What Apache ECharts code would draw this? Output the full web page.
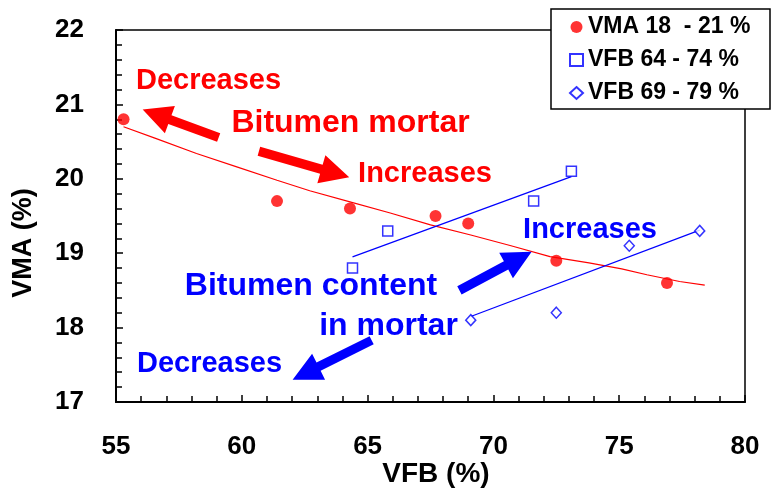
<!DOCTYPE html>
<html>
<head>
<meta charset="utf-8">
<script src="https://cdn.jsdelivr.net/npm/echarts@6/dist/echarts.min.js"></script>
<style>
  html, body { margin: 0; padding: 0; background: #fff; }
  #chart { width: 771px; height: 495px; }
</style>
</head>
<body>
<div id="chart"></div>
<script>
// Measured points
const vmaX = [55.3, 61.4, 64.3, 67.7, 69.0, 72.5, 76.9];
const vmaY = [20.8, 19.7, 19.6, 19.5, 19.4, 18.9, 18.6];
const vfb64X = [64.4, 65.8, 71.6, 73.1];
const vfb64Y = [18.8, 19.3, 19.7, 20.1];
const vfb69X = [69.1, 72.5, 75.4, 78.2];
const vfb69Y = [18.1, 18.2, 19.1, 19.3];

// Trend curves
const vmaFitX = [55.3, 56.6, 58.2, 59.8, 61.4, 62.7, 64.3, 65.9, 67.5, 69.1, 70.7, 72.25, 73.8, 75.1, 76.1, 77.4, 78.4];
const vmaFitY = [20.70, 20.54, 20.34, 20.16, 19.98, 19.84, 19.69, 19.54, 19.38, 19.245, 19.10, 18.955, 18.87, 18.79, 18.71, 18.62, 18.57];
const vfb64FitX = [64.4, 73.1];
const vfb64FitY = [18.95, 20.03];
const vfb69FitX = [69.1, 78.2];
const vfb69FitY = [18.15, 19.31];

const seriesNames = ['VMA 18  - 21 %', 'VFB 64 - 74 %', 'VFB 69 - 79 %'];

// Trend arrows, in axis units: [tailX, tailY, tipX, tipY]
const arrowRedLeft = [59.08, 20.555, 56.06, 20.93];
const arrowRedRight = [60.68, 20.37, 64.27, 20.02];
const arrowBlueUp = [68.65, 18.50, 71.52, 19.02];
const arrowBlueDown = [65.16, 17.83, 62.02, 17.30];

const RED = '#ff0000';
const BLUE = '#0000ff';
const FONT = '"Liberation Sans", Arial, Helvetica, sans-serif';

const pairs = (xs, ys) => xs.map((x, i) => [x, ys[i]]);

const chart = echarts.init(document.getElementById('chart'), null, { renderer: 'canvas' });

function axisCommon(min, max, interval, margin) {
  return {
    type: 'value',
    min: min, max: max, interval: interval,
    axisLine: { onZero: false, lineStyle: { color: '#000', width: 2 } },
    axisTick: { show: true, inside: true, length: 7, lineStyle: { color: '#000', width: 1.5 } },
    minorTick: { show: true, splitNumber: 5, length: 6, lineStyle: { color: '#000', width: 1.5 } },
    splitLine: { show: false },
    minorSplitLine: { show: false },
    axisLabel: { fontSize: 26, fontWeight: 'bold', color: '#000', fontFamily: FONT, margin: margin }
  };
}

chart.setOption({
  animation: false,
  backgroundColor: '#fff',
  grid: { left: 116, right: 26, top: 30, bottom: 93, show: true, borderColor: '#000', borderWidth: 1.5 },
  xAxis: axisCommon(55, 80, 5, 32),
  yAxis: axisCommon(17, 22, 1, 32),
  legend: {
    orient: 'vertical',
    left: 569, top: 15,
    padding: 0,
    itemGap: 9,
    itemWidth: 13, itemHeight: 12,
    data: seriesNames,
    selectedMode: false,
    textStyle: { fontSize: 23, fontWeight: 'bold', color: '#000', fontFamily: FONT, lineHeight: 24 },
    z: 10
  },
  series: [
    {
      name: 'VMA fit', type: 'line', data: pairs(vmaFitX, vmaFitY),
      showSymbol: false, symbol: 'none', silent: true,
      lineStyle: { color: RED, width: 1.2 }, z: 1
    },
    {
      name: 'VFB 64 fit', type: 'line', data: pairs(vfb64FitX, vfb64FitY),
      showSymbol: false, symbol: 'none', silent: true,
      lineStyle: { color: BLUE, width: 1.2 }, z: 1
    },
    {
      name: 'VFB 69 fit', type: 'line', data: pairs(vfb69FitX, vfb69FitY),
      showSymbol: false, symbol: 'none', silent: true,
      lineStyle: { color: BLUE, width: 1.2 }, z: 1
    },
    {
      name: seriesNames[0], type: 'scatter', data: pairs(vmaX, vmaY),
      symbol: 'circle', symbolSize: 12,
      itemStyle: { color: RED }, z: 3
    },
    {
      name: seriesNames[1], type: 'scatter', data: pairs(vfb64X, vfb64Y),
      symbol: 'rect', symbolSize: 10,
      itemStyle: { color: '#fff', borderColor: BLUE, borderWidth: 1.5 }, z: 3
    },
    {
      name: seriesNames[2], type: 'scatter', data: pairs(vfb69X, vfb69Y),
      symbol: 'diamond', symbolSize: [10, 11],
      itemStyle: { color: '#fff', borderColor: BLUE, borderWidth: 1.5 }, z: 3
    }
  ]
});

// Arrow polygon from tail to tip in pixels
function arrowShape(a, color, id) {
  const p0 = chart.convertToPixel({ gridIndex: 0 }, [a[0], a[1]]);
  const p1 = chart.convertToPixel({ gridIndex: 0 }, [a[2], a[3]]);
  const dx = p1[0] - p0[0], dy = p1[1] - p0[1];
  const len = Math.sqrt(dx * dx + dy * dy);
  const ux = dx / len, uy = dy / len;
  const nx = -uy, ny = ux;
  const shaft = 4.6, head = 14.5, headLen = 29;
  const bx = p1[0] - ux * headLen, by = p1[1] - uy * headLen;
  const pts = [
    [p0[0] + nx * shaft, p0[1] + ny * shaft],
    [bx + nx * shaft, by + ny * shaft],
    [bx + nx * head, by + ny * head],
    [p1[0], p1[1]],
    [bx - nx * head, by - ny * head],
    [bx - nx * shaft, by - ny * shaft],
    [p0[0] - nx * shaft, p0[1] - ny * shaft]
  ];
  return { type: 'polygon', id: id, z: 5, shape: { points: pts }, style: { fill: color } };
}

function label(id, text, x, y, color, size, rotation) {
  return {
    type: 'text', id: id, x: x, y: y, z: 6, rotation: rotation || 0,
    style: {
      text: text, fill: color, fontSize: size, fontWeight: 'bold', fontFamily: FONT,
      align: 'center', verticalAlign: 'middle'
    }
  };
}

chart.setOption({
  graphic: [
    // legend frame
    {
      type: 'rect', id: 'legendBox', z: 4,
      shape: { x: 551, y: 9, width: 219, height: 100 },
      style: { fill: '#fff', stroke: '#000', lineWidth: 1.5 }
    },
    arrowShape(arrowRedLeft, RED, 'a1'),
    arrowShape(arrowRedRight, RED, 'a2'),
    arrowShape(arrowBlueUp, BLUE, 'a3'),
    arrowShape(arrowBlueDown, BLUE, 'a4'),
    label('t1', 'Decreases', 208.5, 81, RED, 29),
    label('t2', 'Bitumen mortar', 350.5, 123, RED, 32),
    label('t3', 'Increases', 425, 174, RED, 29),
    label('t4', 'Increases', 590, 229.5, BLUE, 29),
    label('t5', 'Bitumen content', 311, 286.5, BLUE, 32),
    label('t6', 'in mortar', 388.5, 326, BLUE, 32),
    label('t7', 'Decreases', 209.5, 364, BLUE, 29),
    // axis titles
    label('xName', 'VFB (%)', 436, 474, '#000', 28),
    label('yName', 'VMA (%)', 24, 243, '#000', 27, Math.PI / 2)
  ]
});
</script>
</body>
</html>
